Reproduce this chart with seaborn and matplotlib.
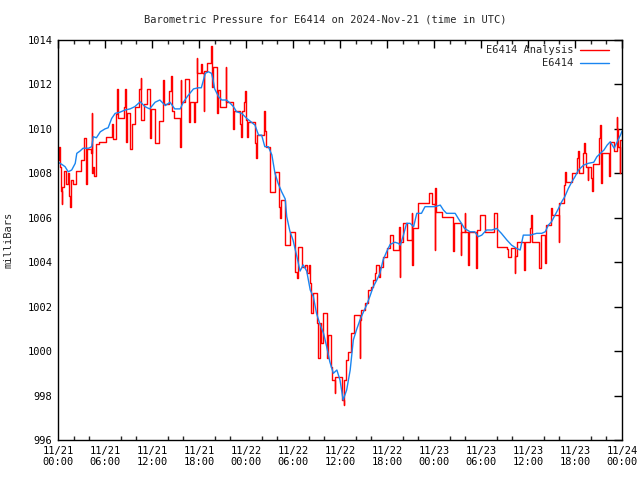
import matplotlib
matplotlib.use("Agg")
import matplotlib.pyplot as plt
import seaborn as sns
import pandas as pd
from matplotlib.ticker import MultipleLocator

# ---------------- data (hours since 2024-11-21 00:00 UTC) ----------------
obs_hours = [0.0, 0.5, 0.9, 1.3, 1.75, 2.2, 2.4, 2.8, 3.2, 3.9, 4.3, 4.5, 4.9, 5.4, 6.0, 6.4,
             6.85, 7.3, 7.9, 8.55, 9.2, 9.8, 10.5, 11.1, 11.7, 12.4, 13.0, 13.7, 14.3, 14.9,
             15.6, 16.0, 16.6, 17.3, 17.9, 18.3, 18.8, 19.2, 19.6, 19.8, 20.0, 20.5, 20.9,
             21.5, 22.0, 22.4, 22.8, 23.45, 24.1, 24.7, 25.15, 25.6, 26.0, 26.4, 26.85, 27.3,
             27.7, 28.1, 28.55, 29.0, 29.2, 29.6, 30.0, 30.5, 30.9, 31.3, 31.75, 32.2, 32.6,
             33.0, 33.4, 33.9, 34.3, 34.7, 35.15, 35.6, 36.0, 36.4, 36.85, 37.3, 37.7, 38.1,
             38.55, 39.0, 39.4, 39.8, 40.25, 40.7, 41.1, 41.5, 41.95, 42.4, 43.0, 43.45, 43.7,
             44.1, 44.5, 44.95, 45.4, 45.8, 46.4, 46.85, 47.5, 48.1, 48.8, 49.2, 49.6, 50.05,
             50.7, 51.1, 51.5, 51.9, 52.6, 53.2, 53.65, 54.1, 54.7, 55.4, 56.0, 56.6, 57.3,
             57.9, 58.55, 59.0, 59.4, 60.3, 61.1, 61.75, 62.2, 62.6, 63.0, 63.45, 63.9, 64.3,
             64.7, 65.15, 65.6, 66.0, 66.45, 67.1, 67.7, 68.4, 68.8, 69.25, 69.7, 70.1, 70.5,
             71.0, 71.4, 71.8, 72.0]
obs_mb = [1008.5, 1008.4, 1008.3, 1008.07, 1008.15, 1008.45, 1008.9, 1009.0, 1009.13, 1009.13,
          1009.2, 1009.65, 1009.6, 1009.87, 1010.0, 1010.05, 1010.47, 1010.7, 1010.75, 1010.85,
          1010.9, 1011.0, 1011.22, 1011.0, 1010.9, 1011.2, 1011.3, 1011.05, 1011.2, 1010.9,
          1010.9, 1011.2, 1011.5, 1011.8, 1011.85, 1011.85, 1012.5, 1012.57, 1012.5, 1012.2,
          1011.8, 1011.45, 1011.3, 1011.3, 1011.15, 1011.0, 1010.77, 1010.7, 1010.47, 1010.3,
          1010.17, 1009.72, 1009.72, 1009.2, 1009.2, 1008.83, 1008.0, 1007.55, 1007.17, 1006.85,
          1006.05, 1005.4, 1005.0, 1004.25, 1003.6, 1003.88, 1003.6, 1002.75, 1002.45, 1001.7,
          1001.25, 1000.8, 1000.2, 999.52, 999.0, 999.15, 998.7, 997.8, 998.25, 999.15, 1000.5,
          1000.95, 1001.4, 1001.77, 1002.07, 1002.45, 1002.9, 1003.2, 1003.5, 1004.1, 1004.47,
          1004.8, 1004.9, 1004.85, 1004.77, 1005.22, 1005.75, 1005.75, 1005.6, 1006.2, 1006.2,
          1006.5, 1006.5, 1006.5, 1006.57, 1006.35, 1006.2, 1006.2, 1006.2, 1005.97, 1005.75,
          1005.52, 1005.37, 1005.37, 1005.15, 1005.22, 1005.45, 1005.45, 1005.52, 1005.3,
          1005.0, 1004.77, 1004.62, 1004.55, 1005.22, 1005.22, 1005.3, 1005.3, 1005.37,
          1005.67, 1005.82, 1006.12, 1006.42, 1006.72, 1006.95, 1007.32, 1007.62, 1007.85,
          1008.15, 1008.37, 1008.45, 1008.5, 1008.75, 1008.9, 1009.05, 1009.27, 1009.42,
          1009.13, 1009.42, 1009.72, 1009.9]

ana_hours = [0.0, 0.12, 0.2, 0.35, 0.45, 0.55, 0.75, 1.05, 1.3, 1.45, 1.55, 1.65, 1.9, 2.3, 2.9,
             3.3, 3.62, 3.7, 4.2, 4.3, 4.38, 4.5, 4.65, 4.8, 5.2, 6.1, 6.85, 7.05, 7.45, 7.55,
             7.65, 8.4, 8.55, 8.65, 8.8, 9.25, 9.4, 9.8, 10.3, 10.55, 10.65, 11.0, 11.3, 11.75,
             11.85, 12.4, 12.9, 13.45, 13.55, 14.2, 14.4, 14.5, 14.8, 15.55, 15.65, 15.75, 16.2,
             16.7, 16.8, 17.35, 17.45, 17.7, 17.8, 18.2, 18.35, 18.6, 18.7, 19.0, 19.5, 19.6,
             19.8, 20.3, 20.45, 20.7, 21.4, 21.5, 22.4, 22.5, 23.2, 23.35, 23.5, 23.8, 23.9,
             24.0, 24.1, 24.2, 25.1, 25.25, 25.4, 26.3, 26.4, 26.5, 27.0, 27.7, 28.2, 28.35,
             28.45, 28.95, 29.6, 30.25, 30.45, 30.7, 31.2, 31.5, 31.75, 32.0, 32.2, 32.3, 32.6,
             33.0, 33.2, 33.45, 33.6, 33.8, 34.3, 34.5, 34.9, 35.0, 35.3, 35.4, 36.3, 36.45,
             36.55, 36.8, 37.0, 37.4, 37.85, 38.5, 38.6, 38.7, 39.25, 39.6, 39.9, 40.15, 40.45,
             40.65, 40.95, 41.1, 41.5, 41.95, 42.4, 42.8, 43.55, 43.6, 43.7, 44.1, 44.5, 45.15,
             45.25, 45.35, 46.0, 47.3, 47.7, 48.1, 48.15, 48.3, 49.0, 50.4, 50.5, 51.4, 51.5,
             51.9, 52.0, 52.4, 52.5, 53.4, 53.55, 53.9, 54.5, 55.7, 56.0, 57.3, 57.5, 57.8,
             58.3, 58.4, 58.6, 59.5, 59.6, 60.3, 60.4, 60.5, 61.4, 61.6, 62.2, 62.3, 62.9, 63.0,
             63.9, 64.0, 64.6, 64.7, 64.8, 65.6, 66.2, 66.35, 66.5, 67.0, 67.15, 67.25, 67.4,
             67.6, 67.7, 68.0, 68.2, 68.3, 69.0, 69.25, 69.35, 69.45, 70.4, 70.5, 71.0, 71.3,
             71.4, 71.55, 71.7, 71.8, 72.0]
ana_mb = [1008.6, 1009.2, 1008.3, 1007.2, 1006.6, 1007.4, 1008.1, 1007.5, 1008.0, 1007.0, 1006.5,
          1007.7, 1007.5, 1008.1, 1008.6, 1009.6, 1007.5, 1009.1, 1008.9, 1010.7, 1008.0, 1008.3,
          1007.9, 1009.3, 1009.43, 1009.65, 1010.2, 1009.55, 1010.65, 1011.8, 1010.5, 1011.0,
          1011.8, 1009.4, 1010.7, 1009.1, 1010.2, 1011.0, 1011.8, 1012.3, 1010.4, 1011.1,
          1011.8, 1009.6, 1010.9, 1009.35, 1010.35, 1012.2, 1011.1, 1011.7, 1012.4, 1010.8,
          1010.5, 1009.2, 1012.2, 1011.2, 1012.25, 1010.3, 1011.2, 1010.3, 1011.2, 1013.2,
          1012.5, 1012.9, 1012.5, 1010.8, 1012.6, 1012.95, 1013.75, 1011.9, 1012.8, 1010.7,
          1011.75, 1011.0, 1012.8, 1011.2, 1010.0, 1010.8, 1010.2, 1009.65, 1010.8, 1011.2,
          1011.7, 1010.4, 1009.65, 1010.32, 1009.35, 1008.7, 1009.72, 1010.8, 1009.9, 1009.2,
          1007.17, 1008.07, 1006.5, 1006.0, 1006.8, 1004.78, 1005.37, 1003.58, 1003.28, 1004.7,
          1003.8, 1003.87, 1003.5, 1003.87, 1003.05, 1001.7, 1002.6, 1001.25, 999.67, 1001.25,
          1000.35, 1001.7, 999.67, 1000.73, 999.3, 998.7, 998.1, 998.85, 997.8, 997.57, 998.7,
          999.6, 999.97, 1000.8, 1001.62, 999.67, 1001.4, 1001.85, 1002.15, 1002.75, 1002.9,
          1003.2, 1003.5, 1003.87, 1003.35, 1003.8, 1004.25, 1004.62, 1005.22, 1004.55, 1005.6,
          1003.35, 1004.92, 1005.75, 1005.0, 1006.2, 1003.87, 1005.52, 1006.65, 1007.1, 1006.6,
          1004.55, 1007.33, 1006.27, 1006.05, 1004.5, 1005.75, 1004.32, 1005.37, 1006.2,
          1005.37, 1003.87, 1005.37, 1003.72, 1005.45, 1006.12, 1005.37, 1006.2, 1004.7,
          1004.6, 1004.25, 1004.62, 1003.5, 1004.3, 1004.92, 1003.65, 1004.92, 1005.52,
          1006.12, 1004.92, 1003.73, 1005.22, 1003.95, 1005.67, 1006.42, 1006.12, 1004.92,
          1006.65, 1007.47, 1008.07, 1007.62, 1008.0, 1008.67, 1009.0, 1008.0, 1008.9, 1009.35,
          1008.9, 1008.3, 1007.7, 1008.3, 1007.8, 1007.2, 1008.4, 1009.57, 1010.17, 1007.55,
          1008.9, 1007.9, 1009.42, 1009.0, 1010.55, 1010.0, 1009.2, 1008.0, 1009.5, 1009.5]

tick_hours = list(range(0, 73, 6))
tick_labels = ["11/21\n00:00", "11/21\n06:00", "11/21\n12:00", "11/21\n18:00",
               "11/22\n00:00", "11/22\n06:00", "11/22\n12:00", "11/22\n18:00",
               "11/23\n00:00", "11/23\n06:00", "11/23\n12:00", "11/23\n18:00",
               "11/24\n00:00"]
y_ticks = list(range(996, 1015, 2))

title = "Barometric Pressure for E6414 on 2024-Nov-21 (time in UTC)"
label_analysis = "E6414 Analysis"
label_obs = "E6414"

# ---------------- style ----------------
sns.set_theme(style="white")
plt.rcParams["font.family"] = ["DejaVu Sans Mono", "DejaVu Sans"]
FS = 7.5

fig = plt.figure(figsize=(6.4, 4.8), dpi=100)
ax = fig.add_axes([58 / 640, 1 - 440 / 480, (622 - 58) / 640, 400 / 480])

ana_df = pd.DataFrame({"hours": ana_hours, "mb": ana_mb})
obs_df = pd.DataFrame({"hours": obs_hours, "mb": obs_mb})

sns.lineplot(data=ana_df, x="hours", y="mb", ax=ax, color="#ff0000", lw=1.0,
             estimator=None, sort=False, drawstyle="steps-post", label=label_analysis)
sns.lineplot(data=obs_df, x="hours", y="mb", ax=ax, color="#1a85f0", lw=1.0,
             estimator=None, sort=False, label=label_obs)

ax.set_xlim(0, 72)
ax.set_ylim(996, 1014)
ax.set_xticks(tick_hours)
ax.set_xticklabels(tick_labels, fontsize=FS, linespacing=1.2)
ax.xaxis.set_minor_locator(MultipleLocator(2))
ax.set_yticks(y_ticks)
ax.set_yticklabels([str(v) for v in y_ticks], fontsize=FS)
ax.tick_params(axis="both", which="major", direction="in", length=6, width=1,
               top=True, right=True, pad=4, colors="black")
ax.tick_params(axis="x", which="minor", direction="in", length=3, width=1,
               top=True, bottom=True)
for s in ax.spines.values():
    s.set_color("black")
    s.set_linewidth(1.0)

ax.set_xlabel("")
ax.set_ylabel("milliBars", fontsize=FS, labelpad=10)
fig.text(325 / 640, 1 - 19 / 480, title, ha="center", va="center", fontsize=FS)

leg = ax.legend(loc="upper right", bbox_to_anchor=(1.0 - 6 / 564, 1.0 + 2 / 400),
                frameon=False, markerfirst=False, fontsize=FS, handlelength=2.8,
                handletextpad=0.6, labelspacing=0.3, borderaxespad=0.3)

fig.savefig("out.png", dpi=100)
